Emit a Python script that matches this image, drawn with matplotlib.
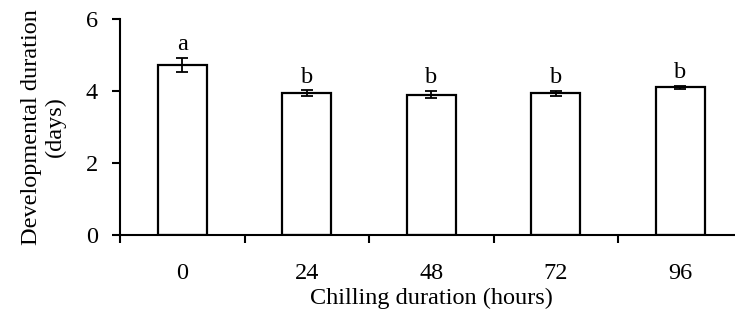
import matplotlib.pyplot as plt
import numpy as np

categorias = ['0', '24', '48', '72', '96']
medias = [4.72, 3.94, 3.90, 3.94, 4.10]
erros = [0.19, 0.08, 0.10, 0.07, 0.05]
letras = ['a', 'b', 'b', 'b', 'b']

plt.rcParams['font.family'] = 'Liberation Serif'
plt.rcParams['font.size'] = 17.5

fig = plt.figure(figsize=(7.35, 3.13), dpi=100)
ax = fig.add_axes([120 / 735, 78 / 313, 622.5 / 735, 216 / 313])

x = np.arange(len(categorias))
ax.bar(x, medias, width=0.39, color='white', edgecolor='black', linewidth=1.6,
       yerr=erros, error_kw=dict(ecolor='black', elinewidth=1.3, capsize=4.5, capthick=1.3))

for xi, m, e, letra in zip(x, medias, erros, letras):
    ax.annotate(letra, (xi, m + e), xytext=(0, 2), textcoords='offset points',
                ha='center', va='bottom')

ax.set_xlim(-0.5, len(categorias) - 0.5)
ax.set_ylim(0, 6)
ax.set_yticks([0, 2, 4, 6])
ax.set_xticks(np.arange(len(categorias) + 1) - 0.5)
ax.set_xticklabels([])
ax.set_xticks(x, minor=True)
ax.set_xticklabels(categorias, minor=True)
ax.tick_params(axis='x', which='minor', length=0, pad=20)
ax.tick_params(axis='x', which='major', length=6, width=1.5, direction='out')
ax.tick_params(axis='y', length=6, width=1.5, direction='out', pad=10)

ax.spines['top'].set_visible(False)
ax.spines['right'].set_visible(False)
ax.spines['left'].set_linewidth(1.5)
ax.spines['bottom'].set_linewidth(1.5)

ax.set_xlabel('Chilling duration (hours)', labelpad=3)
ax.set_ylabel('Developmental duration\n(days)', labelpad=14, linespacing=1.2)

plt.savefig('out.png', dpi=100)
plt.close()
